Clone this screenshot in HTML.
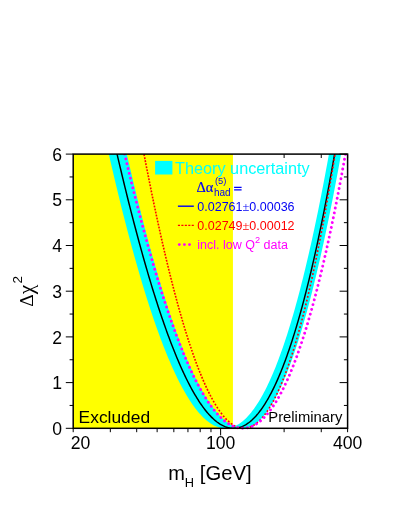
<!DOCTYPE html>
<html><head><meta charset="utf-8"><style>
html,body{margin:0;padding:0;background:#fff;}
body{width:395px;height:511px;overflow:hidden;}
svg{display:block;will-change:transform;opacity:0.9999;}
text{font-family:"Liberation Sans",sans-serif;}
.tl{font-size:17.6px;fill:#000;}
.sy{font-family:"Liberation Serif",serif;}
</style></head><body>
<svg width="395" height="511" viewBox="0 0 395 511">
<rect width="395" height="511" fill="#fff"/>
<defs><clipPath id="cp"><rect x="73.2" y="154.1" width="274.40000000000003" height="274.20000000000005"/></clipPath><clipPath id="cp2"><rect x="73.2" y="154.1" width="274.40000000000003" height="276.40000000000003"/></clipPath></defs>
<rect x="73.2" y="154.1" width="159.74" height="274.20000000000005" fill="#ffff00"/>
<g clip-path="url(#cp)">
<path d="M104.00,132.81 L105.00,137.31 L106.00,141.79 L107.00,146.24 L108.00,150.66 L109.00,155.05 L110.00,159.41 L111.00,163.74 L112.00,168.05 L113.00,172.32 L114.00,176.56 L115.00,180.77 L116.00,184.96 L117.00,189.11 L118.00,193.23 L119.00,197.32 L120.00,201.39 L121.00,205.42 L122.00,209.41 L123.00,213.38 L124.00,217.32 L125.00,221.22 L126.00,225.10 L127.00,228.94 L128.00,232.75 L129.00,236.53 L130.00,240.27 L131.00,243.99 L132.00,247.67 L133.00,251.32 L134.00,254.93 L135.00,258.52 L136.00,262.07 L137.00,265.59 L138.00,269.07 L139.00,272.52 L140.00,275.94 L141.00,279.32 L142.00,282.67 L143.00,285.98 L144.00,289.26 L145.00,292.51 L146.00,295.72 L147.00,298.90 L148.00,302.04 L149.00,305.15 L150.00,308.22 L151.00,311.26 L152.00,314.26 L153.00,317.23 L154.00,320.16 L155.00,323.06 L156.00,325.92 L157.00,328.74 L158.00,331.53 L159.00,334.28 L160.00,336.99 L161.00,339.67 L162.00,342.31 L163.00,344.92 L164.00,347.48 L165.00,350.01 L166.00,352.51 L167.00,354.96 L168.00,357.38 L169.00,359.76 L170.00,362.10 L171.00,364.41 L172.00,366.67 L173.00,368.90 L174.00,371.09 L175.00,373.24 L176.00,375.35 L177.00,377.42 L178.00,379.45 L179.00,381.45 L180.00,383.40 L181.00,385.32 L182.00,387.20 L183.00,389.03 L184.00,390.83 L185.00,392.58 L186.00,394.30 L187.00,395.97 L188.00,397.61 L189.00,399.20 L190.00,400.76 L191.00,402.27 L192.00,403.74 L193.00,405.17 L194.00,406.56 L195.00,407.91 L196.00,409.21 L197.00,410.48 L198.00,411.70 L199.00,412.88 L200.00,414.01 L201.00,415.11 L202.00,416.16 L203.00,417.17 L204.00,418.14 L205.00,419.06 L206.00,419.94 L207.00,420.78 L208.00,421.58 L209.00,422.33 L210.00,423.03 L211.00,423.70 L212.00,424.32 L213.00,424.89 L214.00,425.42 L215.00,425.91 L216.00,426.35 L217.00,426.75 L218.00,427.10 L219.00,427.41 L220.00,427.67 L221.00,427.89 L222.00,428.06 L223.00,428.18 L224.00,428.26 L225.00,428.30 L226.00,428.30 L227.00,428.30 L228.00,428.30 L229.00,428.30 L230.00,428.30 L231.00,428.30 L232.00,428.30 L233.00,428.30 L234.00,428.30 L235.00,428.30 L236.00,428.30 L237.00,428.30 L238.00,428.30 L239.00,428.30 L240.00,428.30 L241.00,428.30 L242.00,428.30 L243.00,428.30 L244.00,428.27 L245.00,428.18 L246.00,428.04 L247.00,427.84 L248.00,427.58 L249.00,427.26 L250.00,426.89 L251.00,426.46 L252.00,425.97 L253.00,425.43 L254.00,424.82 L255.00,424.16 L256.00,423.44 L257.00,422.67 L258.00,421.83 L259.00,420.94 L260.00,420.00 L261.00,418.99 L262.00,417.93 L263.00,416.81 L264.00,415.63 L265.00,414.40 L266.00,413.11 L267.00,411.76 L268.00,410.36 L269.00,408.89 L270.00,407.37 L271.00,405.80 L272.00,404.16 L273.00,402.47 L274.00,400.73 L275.00,398.92 L276.00,397.06 L277.00,395.14 L278.00,393.16 L279.00,391.13 L280.00,389.04 L281.00,386.89 L282.00,384.69 L283.00,382.43 L284.00,380.11 L285.00,377.74 L286.00,375.30 L287.00,372.82 L288.00,370.27 L289.00,367.67 L290.00,365.01 L291.00,362.29 L292.00,359.52 L293.00,356.69 L294.00,353.81 L295.00,350.86 L296.00,347.86 L297.00,344.81 L298.00,341.70 L299.00,338.53 L300.00,335.30 L301.00,332.02 L302.00,328.68 L303.00,325.28 L304.00,321.83 L305.00,318.32 L306.00,314.76 L307.00,311.13 L308.00,307.45 L309.00,303.72 L310.00,299.93 L311.00,296.08 L312.00,292.17 L313.00,288.21 L314.00,284.20 L315.00,280.12 L316.00,275.99 L317.00,271.80 L318.00,267.56 L319.00,263.26 L320.00,258.91 L321.00,254.49 L322.00,250.03 L323.00,245.50 L324.00,240.92 L325.00,236.28 L326.00,231.59 L327.00,226.84 L328.00,222.03 L329.00,217.17 L330.00,212.25 L331.00,207.28 L332.00,202.25 L333.00,197.16 L334.00,192.02 L335.00,186.82 L336.00,181.57 L337.00,176.25 L338.00,170.89 L339.00,165.46 L340.00,159.99 L341.00,154.45 L342.00,148.86 L343.00,143.21 L344.00,137.51 L345.00,131.75 L345.00,108.30 L344.00,108.30 L343.00,108.30 L342.00,108.30 L341.00,108.30 L340.00,108.30 L339.00,108.30 L338.00,108.30 L337.00,108.30 L336.00,113.36 L335.00,119.31 L334.00,125.20 L333.00,131.03 L332.00,136.79 L331.00,142.50 L330.00,148.14 L329.00,153.72 L328.00,159.25 L327.00,164.71 L326.00,170.11 L325.00,175.45 L324.00,180.72 L323.00,185.94 L322.00,191.10 L321.00,196.20 L320.00,201.24 L319.00,206.22 L318.00,211.14 L317.00,216.00 L316.00,220.80 L315.00,225.54 L314.00,230.22 L313.00,234.84 L312.00,239.41 L311.00,243.92 L310.00,248.36 L309.00,252.75 L308.00,257.09 L307.00,261.36 L306.00,265.58 L305.00,269.73 L304.00,273.83 L303.00,277.88 L302.00,281.86 L301.00,285.79 L300.00,289.66 L299.00,293.48 L298.00,297.24 L297.00,300.94 L296.00,304.59 L295.00,308.18 L294.00,311.71 L293.00,315.19 L292.00,318.61 L291.00,321.97 L290.00,325.28 L289.00,328.54 L288.00,331.74 L287.00,334.88 L286.00,337.97 L285.00,341.01 L284.00,343.99 L283.00,346.92 L282.00,349.79 L281.00,352.60 L280.00,355.37 L279.00,358.08 L278.00,360.73 L277.00,363.33 L276.00,365.88 L275.00,368.38 L274.00,370.82 L273.00,373.21 L272.00,375.54 L271.00,377.83 L270.00,380.06 L269.00,382.24 L268.00,384.36 L267.00,386.44 L266.00,388.46 L265.00,390.43 L264.00,392.34 L263.00,394.21 L262.00,396.02 L261.00,397.79 L260.00,399.50 L259.00,401.16 L258.00,402.77 L257.00,404.33 L256.00,405.84 L255.00,407.30 L254.00,408.71 L253.00,410.06 L252.00,411.37 L251.00,412.63 L250.00,413.84 L249.00,415.00 L248.00,416.11 L247.00,417.17 L246.00,418.18 L245.00,419.14 L244.00,420.05 L243.00,420.91 L242.00,421.73 L241.00,422.50 L240.00,423.22 L239.00,423.89 L238.00,424.51 L237.00,425.08 L236.00,425.61 L235.00,426.09 L234.00,426.24 L233.00,425.79 L232.00,425.29 L231.00,424.75 L230.00,424.16 L229.00,423.53 L228.00,422.85 L227.00,422.14 L226.00,421.37 L225.00,420.57 L224.00,419.72 L223.00,418.83 L222.00,417.89 L221.00,416.91 L220.00,415.89 L219.00,414.83 L218.00,413.72 L217.00,412.57 L216.00,411.38 L215.00,410.15 L214.00,408.88 L213.00,407.56 L212.00,406.20 L211.00,404.81 L210.00,403.37 L209.00,401.88 L208.00,400.36 L207.00,398.80 L206.00,397.20 L205.00,395.55 L204.00,393.87 L203.00,392.14 L202.00,390.38 L201.00,388.57 L200.00,386.73 L199.00,384.85 L198.00,382.92 L197.00,380.96 L196.00,378.96 L195.00,376.92 L194.00,374.84 L193.00,372.72 L192.00,370.57 L191.00,368.37 L190.00,366.14 L189.00,363.87 L188.00,361.56 L187.00,359.21 L186.00,356.83 L185.00,354.40 L184.00,351.94 L183.00,349.45 L182.00,346.91 L181.00,344.34 L180.00,341.74 L179.00,339.09 L178.00,336.41 L177.00,333.70 L176.00,330.94 L175.00,328.15 L174.00,325.33 L173.00,322.47 L172.00,319.57 L171.00,316.64 L170.00,313.68 L169.00,310.68 L168.00,307.64 L167.00,304.57 L166.00,301.46 L165.00,298.32 L164.00,295.15 L163.00,291.94 L162.00,288.70 L161.00,285.42 L160.00,282.11 L159.00,278.77 L158.00,275.39 L157.00,271.98 L156.00,268.54 L155.00,265.06 L154.00,261.55 L153.00,258.01 L152.00,254.43 L151.00,250.83 L150.00,247.19 L149.00,243.51 L148.00,239.81 L147.00,236.08 L146.00,232.31 L145.00,228.51 L144.00,224.68 L143.00,220.82 L142.00,216.93 L141.00,213.01 L140.00,209.05 L139.00,205.07 L138.00,201.06 L137.00,197.01 L136.00,192.94 L135.00,188.83 L134.00,184.70 L133.00,180.53 L132.00,176.34 L131.00,172.12 L130.00,167.87 L129.00,163.58 L128.00,159.27 L127.00,154.93 L126.00,150.57 L125.00,146.17 L124.00,141.75 L123.00,137.29 L122.00,132.81 L121.00,128.30 L120.00,123.77 L119.00,119.20 L118.00,114.61 L117.00,110.00 L116.00,108.30 L115.00,108.30 L114.00,108.30 L113.00,108.30 L112.00,108.30 L111.00,108.30 L110.00,108.30 L109.00,108.30 L108.00,108.30 L107.00,108.30 L106.00,108.30 L105.00,108.30 L104.00,108.30 Z" fill="#00ffff"/>
<path d="M112.00,131.97 L113.00,136.38 L114.00,140.78 L115.00,145.14 L116.00,149.48 L117.00,153.80 L118.00,158.09 L119.00,162.35 L120.00,166.58 L121.00,170.79 L122.00,174.97 L123.00,179.12 L124.00,183.25 L125.00,187.35 L126.00,191.42 L127.00,195.46 L128.00,199.48 L129.00,203.46 L130.00,207.42 L131.00,211.35 L132.00,215.25 L133.00,219.12 L134.00,222.97 L135.00,226.78 L136.00,230.56 L137.00,234.31 L138.00,238.04 L139.00,241.73 L140.00,245.39 L141.00,249.03 L142.00,252.63 L143.00,256.20 L144.00,259.74 L145.00,263.25 L146.00,266.72 L147.00,270.17 L148.00,273.58 L149.00,276.96 L150.00,280.31 L151.00,283.63 L152.00,286.92 L153.00,290.17 L154.00,293.39 L155.00,296.57 L156.00,299.73 L157.00,302.84 L158.00,305.93 L159.00,308.98 L160.00,312.00 L161.00,314.98 L162.00,317.93 L163.00,320.85 L164.00,323.73 L165.00,326.57 L166.00,329.38 L167.00,332.16 L168.00,334.90 L169.00,337.60 L170.00,340.27 L171.00,342.90 L172.00,345.50 L173.00,348.06 L174.00,350.58 L175.00,353.07 L176.00,355.52 L177.00,357.93 L178.00,360.31 L179.00,362.65 L180.00,364.95 L181.00,367.21 L182.00,369.43 L183.00,371.62 L184.00,373.77 L185.00,375.88 L186.00,377.95 L187.00,379.98 L188.00,381.98 L189.00,383.93 L190.00,385.84 L191.00,387.72 L192.00,389.55 L193.00,391.35 L194.00,393.10 L195.00,394.82 L196.00,396.49 L197.00,398.13 L198.00,399.72 L199.00,401.27 L200.00,402.78 L201.00,404.25 L202.00,405.68 L203.00,407.06 L204.00,408.41 L205.00,409.71 L206.00,410.97 L207.00,412.18 L208.00,413.36 L209.00,414.49 L210.00,415.57 L211.00,416.62 L212.00,417.62 L213.00,418.58 L214.00,419.49 L215.00,420.36 L216.00,421.19 L217.00,421.97 L218.00,422.71 L219.00,423.40 L220.00,424.05 L221.00,424.65 L222.00,425.20 L223.00,425.72 L224.00,426.18 L225.00,426.60 L226.00,426.98 L227.00,427.30 L228.00,427.59 L229.00,427.82 L230.00,428.01 L231.00,428.15 L232.00,428.25 L233.00,428.29 L234.00,428.29 L235.00,428.25 L236.00,428.15 L237.00,428.01 L238.00,427.82 L239.00,427.58 L240.00,427.29 L241.00,426.95 L242.00,426.57 L243.00,426.13 L244.00,425.65 L245.00,425.11 L246.00,424.53 L247.00,423.90 L248.00,423.21 L249.00,422.48 L250.00,421.70 L251.00,420.86 L252.00,419.98 L253.00,419.04 L254.00,418.06 L255.00,417.02 L256.00,415.93 L257.00,414.79 L258.00,413.60 L259.00,412.35 L260.00,411.05 L261.00,409.71 L262.00,408.30 L263.00,406.85 L264.00,405.34 L265.00,403.78 L266.00,402.17 L267.00,400.50 L268.00,398.78 L269.00,397.01 L270.00,395.18 L271.00,393.30 L272.00,391.36 L273.00,389.37 L274.00,387.32 L275.00,385.22 L276.00,383.07 L277.00,380.86 L278.00,378.59 L279.00,376.27 L280.00,373.89 L281.00,371.46 L282.00,368.97 L283.00,366.42 L284.00,363.82 L285.00,361.16 L286.00,358.44 L287.00,355.67 L288.00,352.84 L289.00,349.95 L290.00,347.00 L291.00,344.00 L292.00,340.94 L293.00,337.82 L294.00,334.64 L295.00,331.41 L296.00,328.11 L297.00,324.76 L298.00,321.34 L299.00,317.87 L300.00,314.34 L301.00,310.75 L302.00,307.10 L303.00,303.39 L304.00,299.62 L305.00,295.79 L306.00,291.89 L307.00,287.94 L308.00,283.93 L309.00,279.85 L310.00,275.72 L311.00,271.52 L312.00,267.26 L313.00,262.94 L314.00,258.56 L315.00,254.11 L316.00,249.61 L317.00,245.04 L318.00,240.41 L319.00,235.71 L320.00,230.95 L321.00,226.13 L322.00,221.25 L323.00,216.30 L324.00,211.29 L325.00,206.21 L326.00,201.07 L327.00,195.87 L328.00,190.60 L329.00,185.26 L330.00,179.86 L331.00,174.40 L332.00,168.87 L333.00,163.28 L334.00,157.62 L335.00,151.89 L336.00,146.10 L337.00,140.24 L338.00,134.32 L339.00,128.33" fill="none" stroke="#000" stroke-width="1.45"/>
<path d="M143.43,151.22L143.77,152.99M144.01,154.25L144.35,156.02M144.59,157.26L144.93,159.03M145.17,160.26L145.51,162.03M145.75,163.25L146.09,165.01M146.35,166.32L146.69,168.09M146.95,169.38L147.29,171.14M147.55,172.42L147.89,174.18M148.14,175.44L148.50,177.21M148.74,178.45L149.10,180.21M149.34,181.44L149.70,183.20M149.94,184.42L150.30,186.18M150.56,187.47L150.92,189.24M151.18,190.51L151.54,192.28M151.80,193.54L152.16,195.30M152.42,196.54L152.78,198.31M153.04,199.53L153.40,201.29M153.66,202.50L154.02,204.26M154.29,205.55L154.67,207.31M154.93,208.58L155.31,210.34M155.57,211.59L155.95,213.35M156.21,214.58L156.59,216.34M156.85,217.56L157.23,219.32M157.51,220.60L157.89,222.36M158.17,223.63L158.55,225.39M158.83,226.63L159.21,228.39M159.49,229.62L159.87,231.38M160.16,232.68L160.56,234.43M160.84,235.71L161.24,237.47M161.52,238.72L161.92,240.48M162.20,241.71L162.60,243.47M162.90,244.77L163.30,246.52M163.60,247.80L164.00,249.55M164.30,250.81L164.70,252.56M164.99,253.79L165.41,255.55M165.71,256.84L166.13,258.59M166.43,259.86L166.85,261.61M167.15,262.86L167.57,264.61M167.87,265.83L168.29,267.58M168.61,268.86L169.03,270.61M169.34,271.87L169.78,273.61M170.08,274.84L170.52,276.59M170.84,277.87L171.28,279.62M171.60,280.87L172.04,282.62M172.36,283.85L172.80,285.59M173.13,286.87L173.59,288.61M173.91,289.86L174.37,291.60M174.71,292.90L175.17,294.64M175.51,295.91L175.97,297.65M176.31,298.88L176.77,300.62M177.12,301.90L177.60,303.64M177.94,304.88L178.42,306.62M178.78,307.91L179.26,309.64M179.61,310.89L180.11,312.63M180.47,313.92L180.97,315.65M181.33,316.90L181.83,318.63M182.21,319.92L182.71,321.64M183.08,322.89L183.60,324.62M183.98,325.90L184.50,327.62M184.90,328.92L185.42,330.65M185.81,331.91L186.35,333.63M186.75,334.91L187.29,336.63M187.71,337.94L188.25,339.65M188.66,340.91L189.22,342.62M189.64,343.90L190.20,345.61M190.63,346.90L191.21,348.61M191.65,349.91L192.23,351.61M192.68,352.91L193.28,354.61M193.74,355.92L194.34,357.62M194.81,358.93L195.43,360.62M195.91,361.93L196.53,363.61M197.02,364.91L197.66,366.60M198.17,367.94L198.83,369.61M199.35,370.94L200.01,372.61M200.54,373.92L201.22,375.58M201.77,376.91L202.47,378.57M203.04,379.92L203.76,381.57M204.35,382.93L205.09,384.57M205.70,385.93L206.46,387.56M207.09,388.91L207.87,390.54M208.54,391.91L209.34,393.53M210.05,394.91L210.87,396.51M211.61,397.90L212.47,399.48M213.25,400.88L214.15,402.45M214.99,403.88L215.93,405.42M216.83,406.87L217.81,408.38M218.80,409.86L219.84,411.34M220.91,412.82L222.01,414.25M223.14,415.67L224.30,417.04M225.52,418.40L226.76,419.69M228.07,420.96L229.41,422.16M230.81,423.30L232.27,424.36M233.79,425.34L235.37,426.20M237.03,426.96L238.73,427.56M240.49,428.00L242.27,428.26M335.24,152.99L335.52,151.21M334.62,156.86L334.90,155.08M334.00,160.70L334.28,158.92M333.37,164.51L333.67,162.73M332.75,168.29L333.05,166.51M332.13,172.04L332.43,170.27M331.49,175.88L331.79,174.11M330.85,179.70L331.15,177.92M330.21,183.48L330.51,181.70M329.57,187.23L329.87,185.45M328.91,191.06L329.21,189.29M328.25,194.86L328.55,193.09M327.58,198.63L327.90,196.86M326.90,202.48L327.22,200.71M326.22,206.30L326.54,204.53M325.54,210.08L325.86,208.31M324.84,213.93L325.16,212.16M324.14,217.75L324.46,215.98M323.44,221.54L323.76,219.77M322.71,225.39L323.05,223.62M321.99,229.21L322.33,227.44M321.27,232.98L321.61,231.22M320.53,236.82L320.87,235.06M319.79,240.63L320.13,238.86M319.05,244.39L319.39,242.62M318.28,248.21L318.64,246.44M317.52,251.99L317.88,250.22M316.74,255.82L317.10,254.06M315.96,259.61L316.32,257.85M315.16,263.45L315.52,261.69M314.35,267.25L314.73,265.49M313.53,271.09L313.91,269.33M312.71,274.88L313.09,273.12M311.87,278.72L312.25,276.96M311.02,282.50L311.42,280.75M310.16,286.32L310.56,284.57M309.30,290.09L309.70,288.34M308.42,293.89L308.82,292.14M307.51,297.72L307.93,295.97M306.61,301.49L307.03,299.74M305.69,305.29L306.11,303.54M304.74,309.11L305.18,307.36M303.80,312.86L304.24,311.12M302.84,316.63L303.28,314.89M301.85,320.41L302.31,318.67M300.85,324.20L301.31,322.46M299.82,327.99L300.30,326.25M298.78,331.78L299.26,330.05M297.72,335.57L298.20,333.83M296.63,339.34L297.13,337.61M295.52,343.11L296.04,341.38M294.40,346.85L294.92,345.13M293.23,350.64L293.77,348.92M292.05,354.39L292.59,352.68M290.84,358.11L291.40,356.40M289.59,361.86L290.17,360.15M288.33,365.55L288.91,363.85M287.02,369.25L287.62,367.55M285.67,372.94L286.29,371.25M284.28,376.61L284.92,374.93M282.85,380.26L283.51,378.59M281.36,383.92L282.04,382.25M279.82,387.52L280.54,385.86M278.23,391.09L278.97,389.45M276.57,394.63L277.35,393.01M274.84,398.15L275.64,396.54M273.02,401.62L273.86,400.03M271.09,405.05L271.99,403.49M269.07,408.41L270.01,406.88M266.92,411.68L267.92,410.19M264.62,414.84L265.70,413.40M262.14,417.88L263.30,416.51M259.45,420.73L260.71,419.45M256.51,423.32L257.89,422.17M253.28,425.54L254.80,424.58M249.75,427.22L251.41,426.53M245.96,428.18L247.72,427.84" fill="none" stroke="#ff0000" stroke-width="1.6"/>
</g>
<path d="M119.00,129.91 L120.00,134.28 L121.00,138.62 L122.00,142.94 L123.00,147.23 L124.00,151.50 L125.00,155.74 L126.00,159.96 L127.00,164.15 L128.00,168.31 L129.00,172.45 L130.00,176.56 L131.00,180.65 L132.00,184.71 L133.00,188.74 L134.00,192.74 L135.00,196.72 L136.00,200.67 L137.00,204.59 L138.00,208.48 L139.00,212.35 L140.00,216.19 L141.00,220.00 L142.00,223.78 L143.00,227.53 L144.00,231.26 L145.00,234.95 L146.00,238.62 L147.00,242.25 L148.00,245.86 L149.00,249.43 L150.00,252.98 L151.00,256.50 L152.00,259.99 L153.00,263.44 L154.00,266.87 L155.00,270.26 L156.00,273.63 L157.00,276.96 L158.00,280.26 L159.00,283.53 L160.00,286.77 L161.00,289.98 L162.00,293.15 L163.00,296.30 L164.00,299.41 L165.00,302.48 L166.00,305.53 L167.00,308.54 L168.00,311.52 L169.00,314.47 L170.00,317.38 L171.00,320.26 L172.00,323.11 L173.00,325.92 L174.00,328.70 L175.00,331.44 L176.00,334.15 L177.00,336.83 L178.00,339.47 L179.00,342.07 L180.00,344.64 L181.00,347.18 L182.00,349.68 L183.00,352.14 L184.00,354.57 L185.00,356.96 L186.00,359.32 L187.00,361.64 L188.00,363.92 L189.00,366.17 L190.00,368.38 L191.00,370.55 L192.00,372.69 L193.00,374.79 L194.00,376.85 L195.00,378.87 L196.00,380.86 L197.00,382.80 L198.00,384.71 L199.00,386.58 L200.00,388.42 L201.00,390.21 L202.00,391.96 L203.00,393.68 L204.00,395.36 L205.00,396.99 L206.00,398.59 L207.00,400.15 L208.00,401.67 L209.00,403.15 L210.00,404.58 L211.00,405.98 L212.00,407.34 L213.00,408.65 L214.00,409.93 L215.00,411.16 L216.00,412.35 L217.00,413.50 L218.00,414.61 L219.00,415.68 L220.00,416.71 L221.00,417.69 L222.00,418.63 L223.00,419.53 L224.00,420.38 L225.00,421.20 L226.00,421.97 L227.00,422.69 L228.00,423.38 L229.00,424.02 L230.00,424.61 L231.00,425.16 L232.00,425.67 L233.00,426.13 L234.00,426.55 L235.00,426.93 L236.00,427.26 L237.00,427.54 L238.00,427.78 L239.00,427.98 L240.00,428.13 L241.00,428.23 L242.00,428.29 L243.00,428.30 L244.00,428.26 L245.00,428.18 L246.00,428.06 L247.00,427.88 L248.00,427.66 L249.00,427.39 L250.00,427.08 L251.00,426.71 L252.00,426.30 L253.00,425.85 L254.00,425.34 L255.00,424.79 L256.00,424.18 L257.00,423.53 L258.00,422.84 L259.00,422.09 L260.00,421.29 L261.00,420.44 L262.00,419.55 L263.00,418.60 L264.00,417.61 L265.00,416.57 L266.00,415.47 L267.00,414.33 L268.00,413.13 L269.00,411.89 L270.00,410.59 L271.00,409.25 L272.00,407.85 L273.00,406.40 L274.00,404.90 L275.00,403.35 L276.00,401.75 L277.00,400.09 L278.00,398.38 L279.00,396.62 L280.00,394.81 L281.00,392.95 L282.00,391.03 L283.00,389.06 L284.00,387.04 L285.00,384.96 L286.00,382.83 L287.00,380.65 L288.00,378.41 L289.00,376.12 L290.00,373.77 L291.00,371.37 L292.00,368.92 L293.00,366.41 L294.00,363.85 L295.00,361.23 L296.00,358.56 L297.00,355.83 L298.00,353.04 L299.00,350.20 L300.00,347.31 L301.00,344.35 L302.00,341.34 L303.00,338.28 L304.00,335.16 L305.00,331.98 L306.00,328.75 L307.00,325.45 L308.00,322.10 L309.00,318.70 L310.00,315.23 L311.00,311.71 L312.00,308.13 L313.00,304.49 L314.00,300.80 L315.00,297.04 L316.00,293.23 L317.00,289.36 L318.00,285.42 L319.00,281.43 L320.00,277.38 L321.00,273.27 L322.00,269.11 L323.00,264.88 L324.00,260.59 L325.00,256.24 L326.00,251.83 L327.00,247.36 L328.00,242.83 L329.00,238.24 L330.00,233.58 L331.00,228.87 L332.00,224.10 L333.00,219.26 L334.00,214.36 L335.00,209.40 L336.00,204.38 L337.00,199.29 L338.00,194.14 L339.00,188.93 L340.00,183.66 L341.00,178.33 L342.00,172.93 L343.00,167.46 L344.00,161.94 L345.00,156.35 L346.00,150.70 L347.00,144.98 L348.00,139.20 L349.00,133.35" clip-path="url(#cp2)" fill="none" stroke="#ff00ff" stroke-width="2.9" stroke-linecap="round" stroke-dasharray="0.01,4.95"/>
<g stroke="#000" stroke-width="1"><line x1="73.20" y1="428.3" x2="73.20" y2="432.2"/><line x1="110.34" y1="428.3" x2="110.34" y2="432.2"/><line x1="136.69" y1="428.3" x2="136.69" y2="432.2"/><line x1="157.13" y1="428.3" x2="157.13" y2="432.2"/><line x1="173.83" y1="428.3" x2="173.83" y2="432.2"/><line x1="187.95" y1="428.3" x2="187.95" y2="432.2"/><line x1="200.18" y1="428.3" x2="200.18" y2="432.2"/><line x1="210.97" y1="428.3" x2="210.97" y2="432.2"/><line x1="220.62" y1="428.3" x2="220.62" y2="435.4"/><line x1="284.11" y1="428.3" x2="284.11" y2="432.2"/><line x1="284.11" y1="154.1" x2="284.11" y2="158.0"/><line x1="321.25" y1="428.3" x2="321.25" y2="432.2"/><line x1="321.25" y1="154.1" x2="321.25" y2="158.0"/><line x1="347.60" y1="428.3" x2="347.60" y2="432.2"/><line x1="347.60" y1="154.1" x2="347.60" y2="158.0"/><line x1="73.2" y1="428.30" x2="65.8" y2="428.30"/><line x1="347.6" y1="428.30" x2="339.6" y2="428.30"/><line x1="73.2" y1="405.45" x2="69.60000000000001" y2="405.45"/><line x1="347.6" y1="405.45" x2="343.9" y2="405.45"/><line x1="73.2" y1="382.60" x2="65.8" y2="382.60"/><line x1="347.6" y1="382.60" x2="339.6" y2="382.60"/><line x1="73.2" y1="359.75" x2="69.60000000000001" y2="359.75"/><line x1="347.6" y1="359.75" x2="343.9" y2="359.75"/><line x1="73.2" y1="336.90" x2="65.8" y2="336.90"/><line x1="347.6" y1="336.90" x2="339.6" y2="336.90"/><line x1="73.2" y1="314.05" x2="69.60000000000001" y2="314.05"/><line x1="347.6" y1="314.05" x2="343.9" y2="314.05"/><line x1="73.2" y1="291.20" x2="65.8" y2="291.20"/><line x1="347.6" y1="291.20" x2="339.6" y2="291.20"/><line x1="73.2" y1="268.35" x2="69.60000000000001" y2="268.35"/><line x1="347.6" y1="268.35" x2="343.9" y2="268.35"/><line x1="73.2" y1="245.50" x2="65.8" y2="245.50"/><line x1="347.6" y1="245.50" x2="339.6" y2="245.50"/><line x1="73.2" y1="222.65" x2="69.60000000000001" y2="222.65"/><line x1="347.6" y1="222.65" x2="343.9" y2="222.65"/><line x1="73.2" y1="199.80" x2="65.8" y2="199.80"/><line x1="347.6" y1="199.80" x2="339.6" y2="199.80"/><line x1="73.2" y1="176.95" x2="69.60000000000001" y2="176.95"/><line x1="347.6" y1="176.95" x2="343.9" y2="176.95"/><line x1="73.2" y1="154.10" x2="65.8" y2="154.10"/><line x1="347.6" y1="154.10" x2="339.6" y2="154.10"/></g>
<rect x="73.2" y="154.1" width="274.40000000000003" height="274.20000000000005" fill="none" stroke="#000" stroke-width="1.5"/>
<text x="62.0" y="434.90" text-anchor="end" class="tl">0</text><text x="62.0" y="389.20" text-anchor="end" class="tl">1</text><text x="62.0" y="343.50" text-anchor="end" class="tl">2</text><text x="62.0" y="297.80" text-anchor="end" class="tl">3</text><text x="62.0" y="252.10" text-anchor="end" class="tl">4</text><text x="62.0" y="206.40" text-anchor="end" class="tl">5</text><text x="62.0" y="160.70" text-anchor="end" class="tl">6</text>
<text x="80.6" y="448.9" text-anchor="middle" class="tl">20</text>
<text x="220.62" y="449" text-anchor="middle" class="tl">100</text>
<text x="347.6" y="449" text-anchor="middle" class="tl">400</text>
<text x="168.2" y="479.8" font-size="20">m<tspan font-size="12.8" dy="6.8">H</tspan><tspan dy="-6.8" font-size="20.3"> [GeV]</tspan></text>
<g transform="translate(33.2,306.8) rotate(-90)"><text x="0" y="0" font-size="19.5" class="sy">Δ<tspan font-size="21.5">χ</tspan><tspan font-size="13.5" dy="-10.8" dx="1.1" font-family="Liberation Sans">2</tspan></text></g>
<text x="78.6" y="422.6" font-size="17.4">Excluded</text>
<text x="342.3" y="422.3" font-size="14.8" text-anchor="end">Preliminary</text>
<rect x="155.1" y="160.9" width="17.3" height="13.6" fill="#00ffff"/>
<text x="175" y="174.2" font-size="16.25" fill="#00ffff">Theory uncertainty</text>
<g fill="#0000f4"><text x="196.6" y="192.0" font-size="14.4" class="sy" stroke="#0000f4" stroke-width="0.2">Δα</text>
<text x="214.9" y="184.4" font-size="9.4">(5)</text>
<text x="214.0" y="196.4" font-size="10">had</text>
<path d="M234.1,187.3H241.6M234.1,189.9H241.6" stroke="#0000f4" stroke-width="1.15" fill="none"/></g>
<line x1="177.9" y1="206.2" x2="193.8" y2="206.2" stroke="#0000f4" stroke-width="1.4"/>
<text x="197.3" y="210.8" font-size="12.5" fill="#0000f4">0.02761<tspan class="sy">±</tspan>0.00036</text>
<line x1="177.9" y1="225.4" x2="193.8" y2="225.4" stroke="#ff0000" stroke-width="1.4" stroke-dasharray="2.1,1.35"/>
<text x="197.3" y="230.2" font-size="12.5" fill="#ff0000">0.02749<tspan class="sy">±</tspan>0.00012</text>
<g fill="#ff00ff"><circle cx="179.3" cy="244.6" r="1.4"/><circle cx="184.4" cy="244.6" r="1.4"/><circle cx="189.5" cy="244.6" r="1.4"/></g>
<text x="197.3" y="248.7" font-size="12.5" fill="#ff00ff">incl. low Q<tspan font-size="9.2" dy="-5.5">2</tspan><tspan dy="5.5"> data</tspan></text>
</svg>
</body></html>
